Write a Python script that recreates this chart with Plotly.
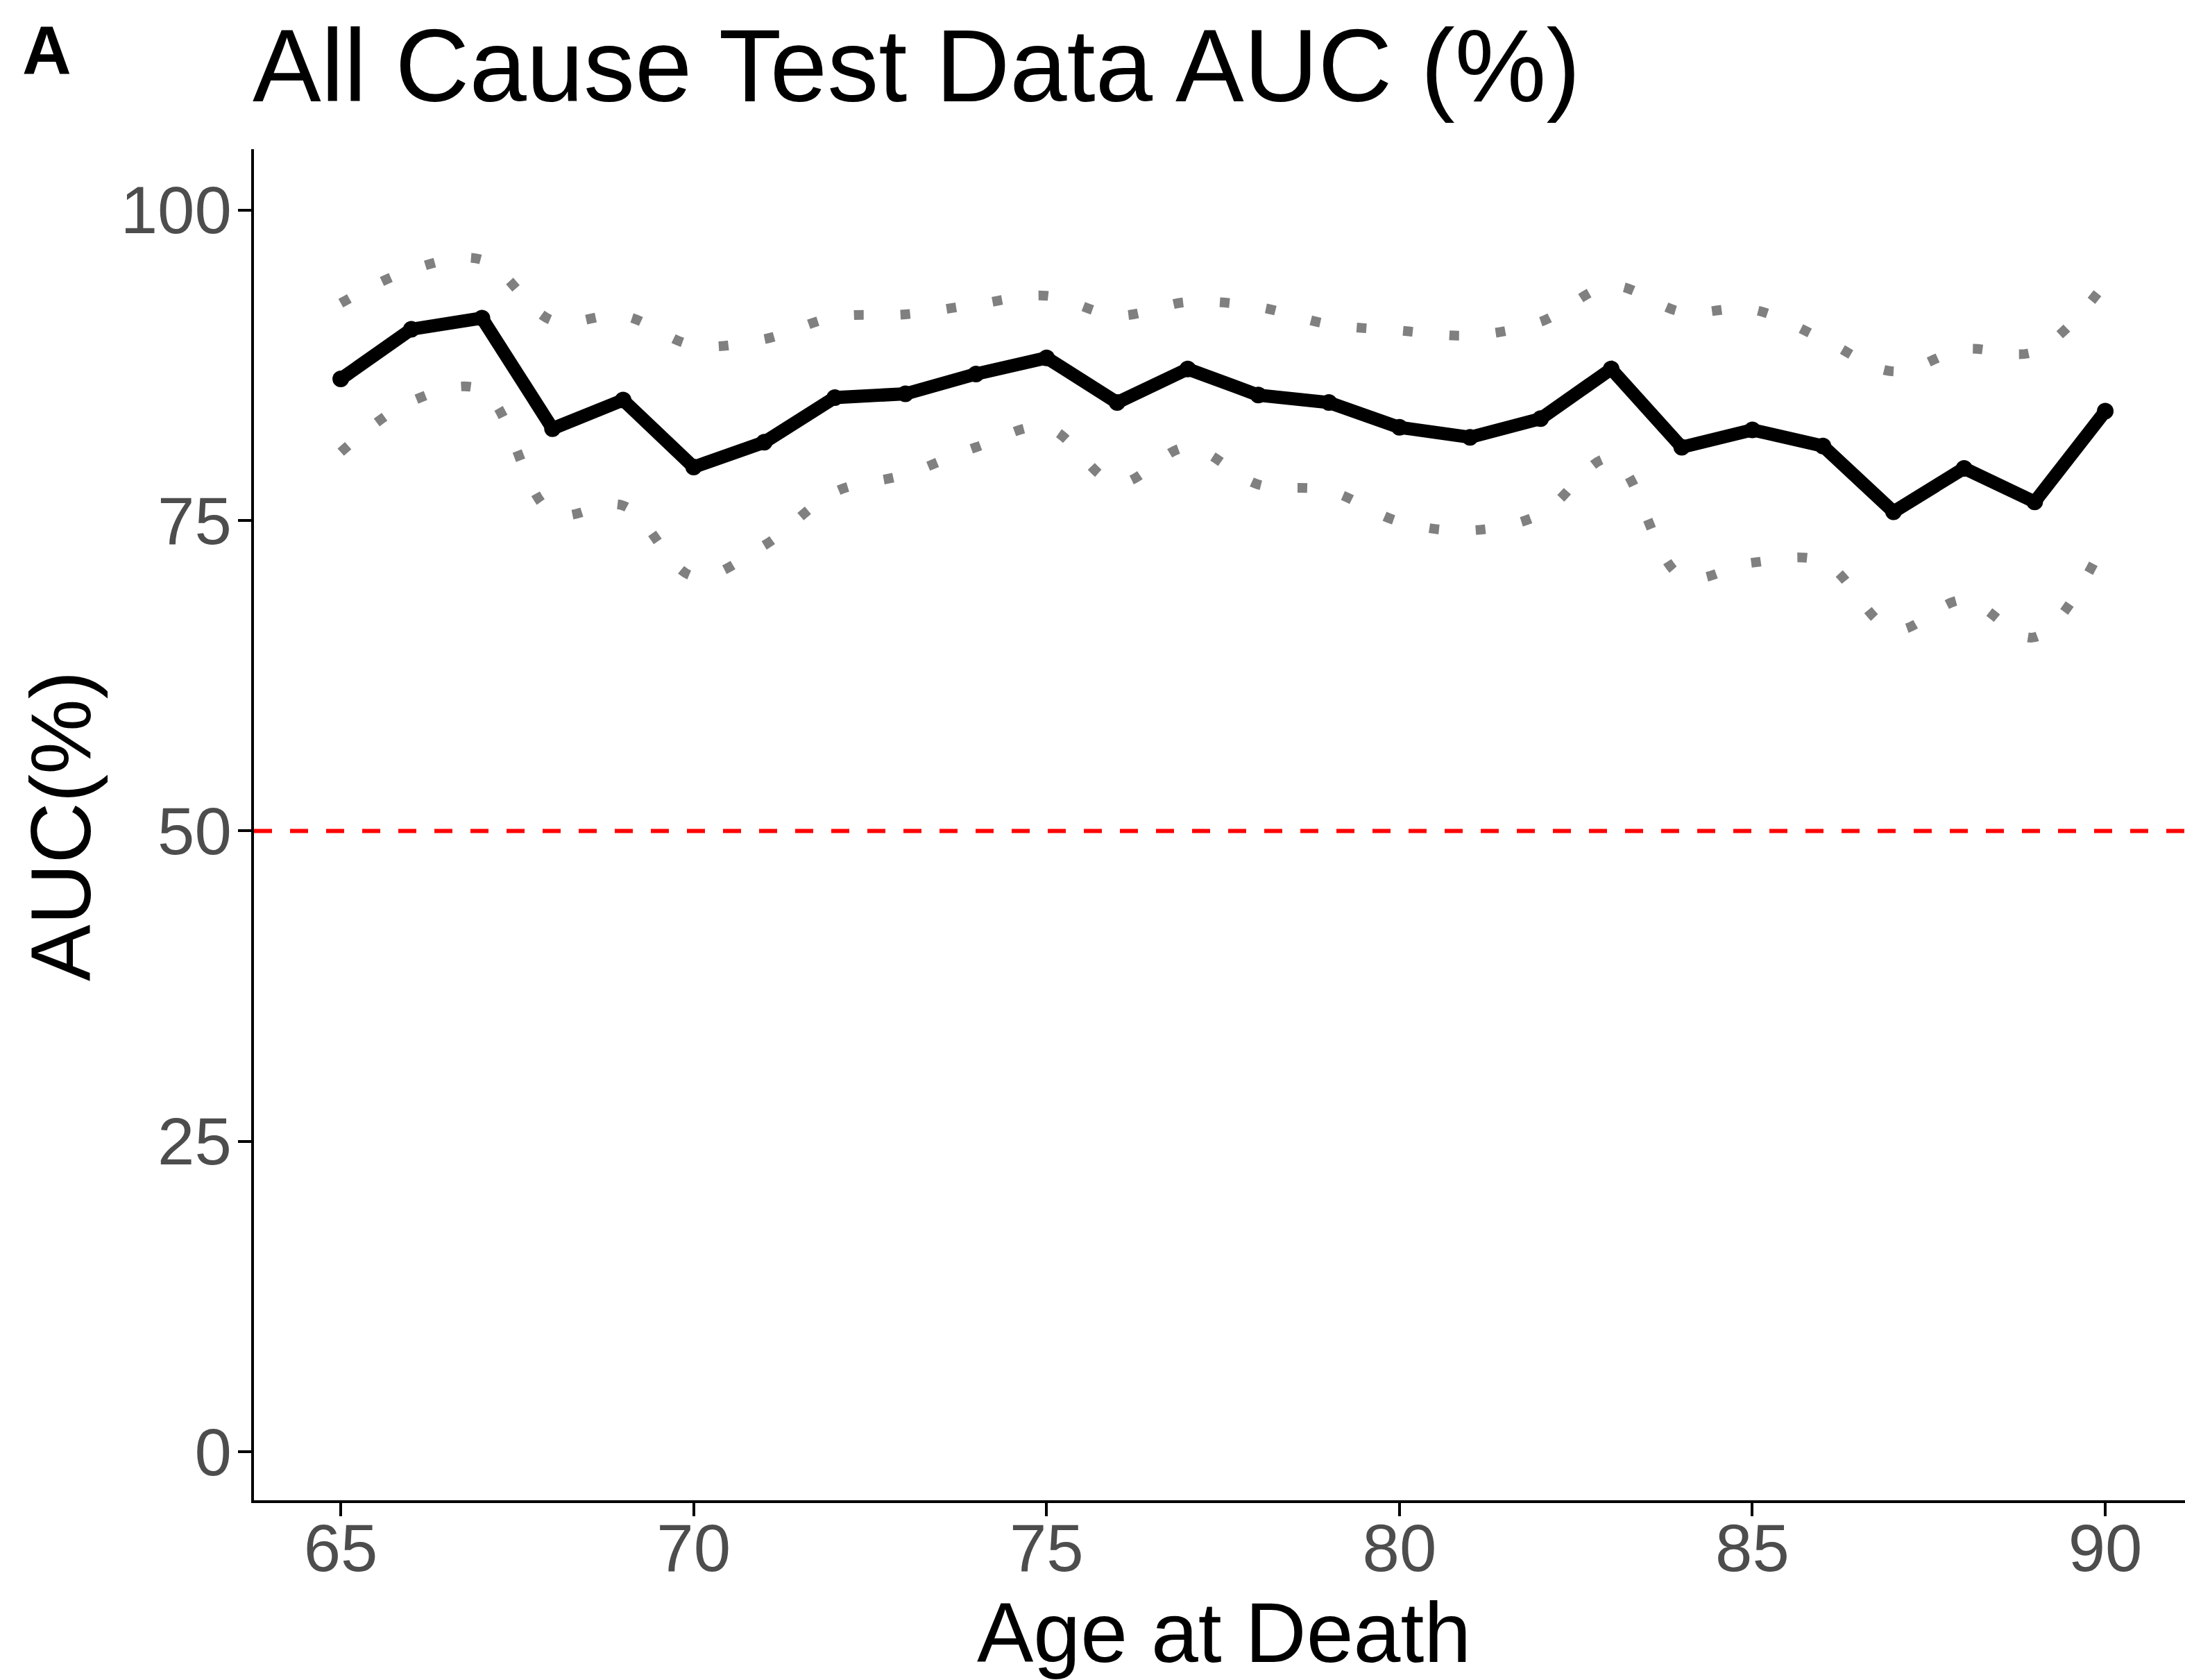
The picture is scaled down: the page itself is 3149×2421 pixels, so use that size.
import plotly.graph_objects as go

# ---- data ----
age = [65, 66, 67, 68, 69, 70, 71, 72, 73, 74, 75, 76, 77,
       78, 79, 80, 81, 82, 83, 84, 85, 86, 87, 88, 89, 90]
auc = [86.4, 90.4, 91.3, 82.4, 84.7, 79.3, 81.3, 84.9, 85.2, 86.8, 88.1, 84.5, 87.2,
       85.1, 84.5, 82.5, 81.7, 83.2, 87.2, 80.9, 82.3, 81.0, 75.7, 79.2, 76.5, 83.8]
auc_upper = [92.5, 95.2, 96.0, 91.1, 91.5, 89.1, 89.6, 91.4, 91.6, 92.4, 93.1, 91.5, 92.6,
             92.2, 90.8, 90.3, 89.9, 91.0, 93.9, 91.8, 92.0, 89.6, 87.0, 88.8, 88.6, 94.1]
auc_lower = [80.5, 84.6, 85.5, 75.6, 76.2, 70.5, 73.0, 77.3, 78.7, 80.9, 82.5, 78.0, 80.9,
             77.9, 77.4, 74.9, 74.2, 75.5, 80.0, 70.5, 71.6, 71.7, 66.2, 68.6, 65.6, 73.4]
chance_level = 50
y_ticks = [0, 25, 50, 75, 100]
x_ticks = [65, 70, 75, 80, 85, 90]

title_text = "All Cause Test Data AUC (%)"
panel_label = "A"
x_title = "Age at Death"
y_title = "AUC(%)"

FONT = "Liberation Sans, Arial, sans-serif"
W, H = 3149, 2421
ML, MR, MT, MB = 366, 0, 215, 259

fig = go.Figure()

for band in (auc_upper, auc_lower):
    fig.add_trace(go.Scatter(
        x=age, y=band, mode="lines",
        line=dict(color="#808080", width=14, dash="14px,53px", shape="spline", smoothing=1.0),
        hoverinfo="skip", showlegend=False))

fig.add_hline(y=chance_level, line=dict(color="#FF0000", width=6, dash="26px,26px"), layer="below")

fig.add_trace(go.Scatter(
    x=age, y=auc, mode="lines+markers",
    line=dict(color="black", width=19),
    marker=dict(color="black", size=24),
    showlegend=False))

axis_common = dict(
    showgrid=False, zeroline=False, showline=True, linecolor="black", linewidth=4,
    ticks="outside", ticklen=19, tickwidth=4, tickcolor="black", automargin=False,
    tickfont=dict(family=FONT, size=96, color="#4D4D4D"),
)

fig.update_xaxes(range=[63.77, 91.13], tickvals=x_ticks, ticklabelstandoff=-36, **axis_common)
fig.update_yaxes(range=[-3.9, 104.9], tickvals=y_ticks, ticklabelstandoff=-10, **axis_common)

plot_w = W - ML - MR
plot_h = H - MT - MB

def px_x(p):
    return (p - ML) / plot_w

def px_y(p):
    return (H - MB - p) / plot_h

fig.add_annotation(text=title_text, xref="paper", yref="paper",
                   x=px_x(362), y=px_y(94), xanchor="left", yanchor="middle",
                   showarrow=False, font=dict(family=FONT, size=148, color="black"))
fig.add_annotation(text="<b>" + panel_label + "</b>", xref="paper", yref="paper",
                   x=px_x(30), y=px_y(72), xanchor="left", yanchor="middle",
                   showarrow=False, font=dict(family=FONT, size=98, color="black"))
fig.add_annotation(text=x_title, xref="paper", yref="paper",
                   x=px_x(1764), y=px_y(2353), xanchor="center", yanchor="middle",
                   showarrow=False, font=dict(family=FONT, size=122, color="black"))
fig.add_annotation(text=y_title, xref="paper", yref="paper", textangle=-90,
                   x=px_x(88), y=px_y(1191), xanchor="center", yanchor="middle",
                   showarrow=False, font=dict(family=FONT, size=122, color="black"))

fig.update_layout(
    template="none",
    width=W, height=H,
    margin=dict(l=ML, r=MR, t=MT, b=MB, pad=0),
    paper_bgcolor="white", plot_bgcolor="white",
    showlegend=False,
)

fig.write_html("out.html", config={"displayModeBar": False},
               post_script="document.body.style.margin='0';document.body.style.overflow='hidden';")
